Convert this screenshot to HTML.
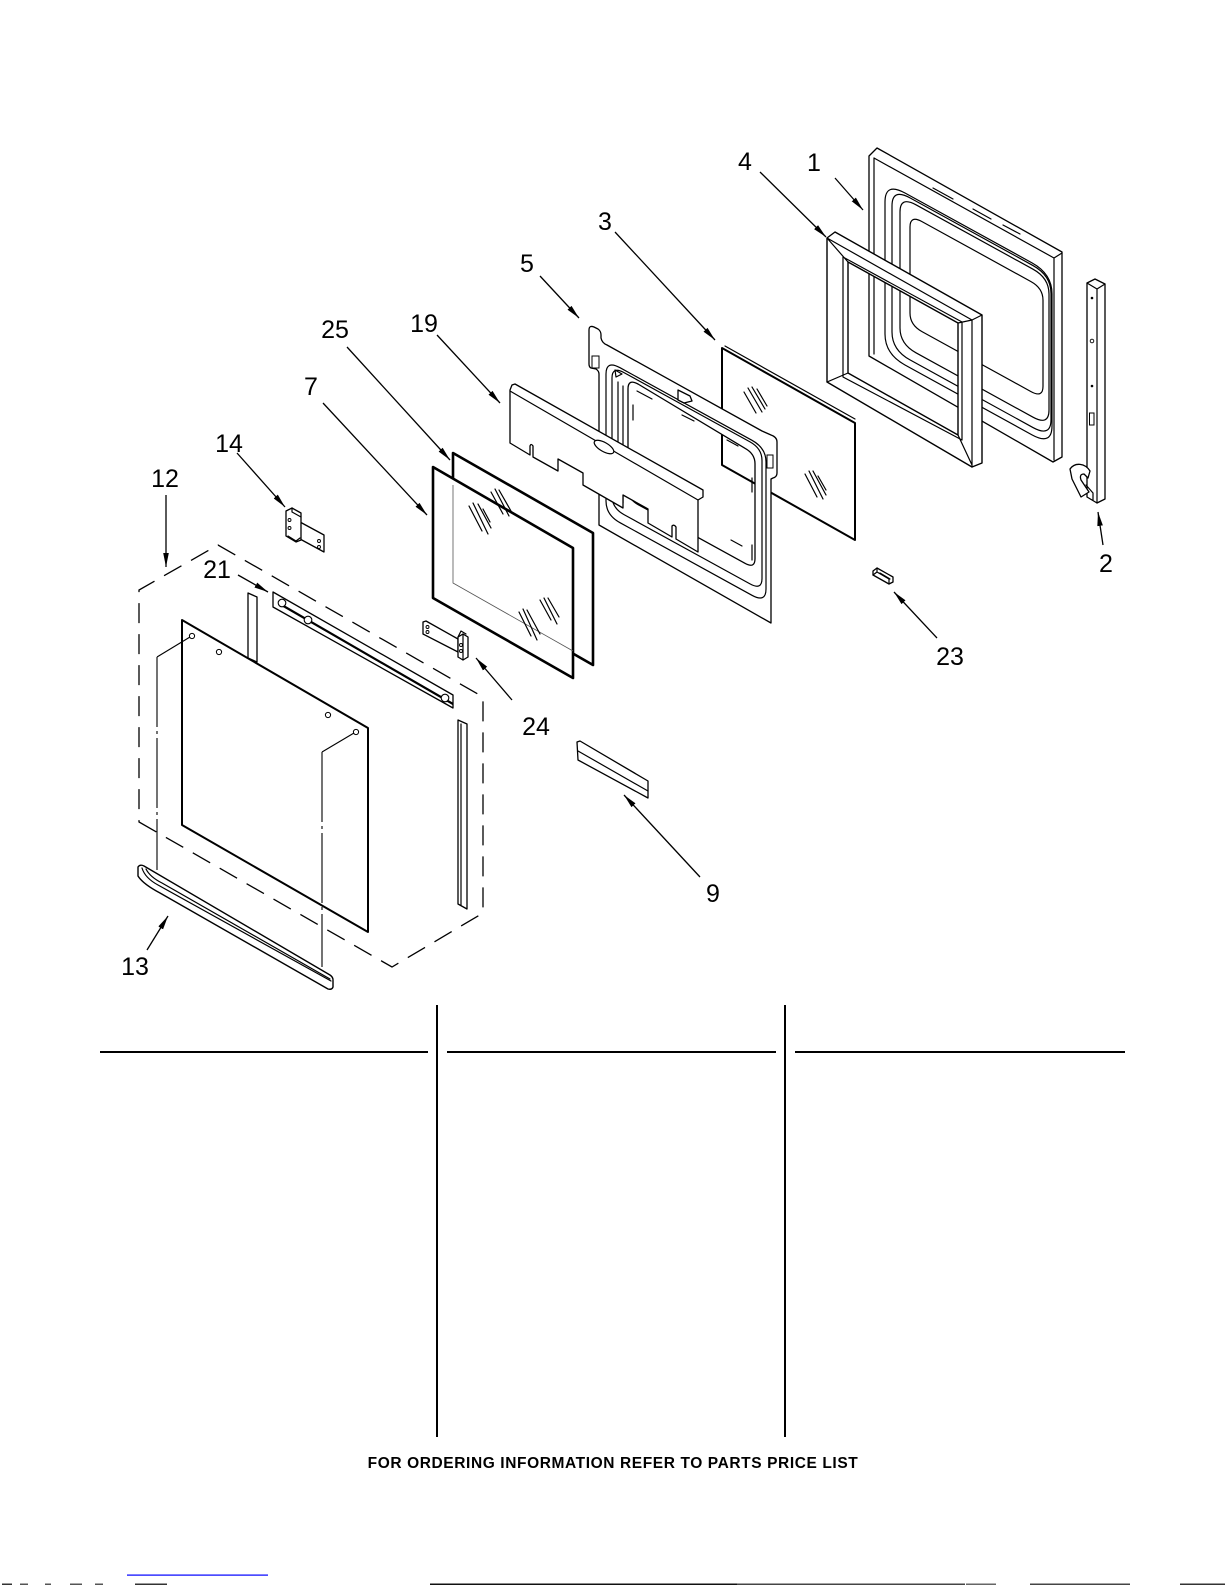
<!DOCTYPE html>
<html>
<head>
<meta charset="utf-8">
<style>
html,body{margin:0;padding:0;background:#fff;width:1225px;height:1585px;overflow:hidden;}
svg{position:absolute;left:0;top:0;}
.l{fill:none;stroke:#000;stroke-width:1.2;stroke-linejoin:round;stroke-linecap:round;}
.w{fill:#fff;stroke:#000;stroke-width:1.3;stroke-linejoin:round;}
.t{font-family:"Liberation Sans",Arial,sans-serif;font-size:25px;fill:#000;text-anchor:middle;}
</style>
</head>
<body>
<svg width="1225" height="1585" viewBox="0 0 1225 1585" xmlns="http://www.w3.org/2000/svg">
<defs>
<marker id="ah" markerUnits="userSpaceOnUse" markerWidth="15" markerHeight="8" refX="14" refY="4" orient="auto">
<path d="M0,1.2 L14,4 L0,6.8 Z" fill="#000"/>
</marker>
</defs>

<!-- PART 1 back panel -->
<path class="w" d="M869,156 L877,148 L1062,252 L1062,457 L1053,462 L869,356 Z"/>
<path class="l" d="M874,158 L1054,258 L1054,460 M874,158 L874,354 M1054,258 L1062,253"/>
<path class="l" d="M885,202 Q885,182 905,193 L1032,262.85 Q1052,273.85 1052,293.85 L1052,425.85 Q1052,445.85 1032,434.85 L905,365 Q885,354 885,334 Z"/>
<path class="l" d="M892,206 Q892,188 910,197.9 L1033,265.55 Q1051,275.45 1051,293.45 L1051,419.45 Q1051,437.45 1033,427.55 L910,359.9 Q892,350 892,332 Z"/>
<path class="l" d="M900,212 Q900,196 916,204.8 L1033,269.2 Q1049,278 1049,294 L1049,410 Q1049,426 1033,417.2 L916,352.8 Q900,344 900,328 Z"/>
<path class="l" d="M910,227 Q910,215 922,221.6 L1031,281.6 Q1043,288.2 1043,300.2 L1043,386.2 Q1043,398.2 1031,391.6 L922,331.6 Q910,325 910,313 Z"/>
<path class="l" d="M933,188 L953,199 M973,209 L991,219 M1003,225 L1020,234"/>

<!-- PART 4 frame -->
<path fill="#fff" fill-rule="evenodd" stroke="#000" stroke-width="1.4" stroke-linejoin="round" d="M827,238 L835,232 L982,315 L982,463 L972,467 L827,382 Z M848,262 L958,323 L958,435 L848,373 Z"/>
<path class="l" d="M827,238 L972,320 L982,315 M972,320 L972,467 M843,257 L962,322 L962,440 L843,377 Z M827,238 L848,262 M827,382 L848,373 M972,320 L958,323 M972,465 L958,435"/>

<!-- PART 2 rail -->
<path class="w" d="M1087,283 L1095,279 L1105,284 L1105,499 L1097,503 L1087,497 Z"/>
<path class="l" d="M1087,283 L1097,289 L1105,284 M1097,289 L1097,503"/>
<circle cx="1092" cy="298" r="1.3" fill="#000"/>
<circle cx="1092" cy="341" r="1.8" fill="none" stroke="#000" stroke-width="0.9"/>
<circle cx="1092" cy="386" r="1.3" fill="#000"/>
<rect x="1089.5" y="413" width="4.5" height="12" fill="none" stroke="#000" stroke-width="1"/>
<path class="w" d="M1090,471 C1085,463 1075,462 1070,469 L1072,479 L1081,497 L1089,492 L1081,480 Q1079,474 1084,474 L1088,478 Z"/>
<path class="l" d="M1086,485 L1093,493 L1093,500"/>

<!-- PART 3 glass -->
<path fill="#fff" stroke="#000" stroke-width="2" stroke-linejoin="round" d="M722,348 L855,423 L855,540 L722,465 Z"/>
<path class="l" d="M725,346 L855,419" stroke-width="0.8"/>
<path class="l" stroke-width="0.9" d="M744,392 L756,413 M748,388 L762,412 M752,387 L765,409 M757,389 L767,406 M805,474 L817,497 M809,471 L823,499 M813,471 L826,495 M818,476 L826,490"/>

<!-- PART 5 frame -->
<path fill="#fff" fill-rule="evenodd" stroke="#000" stroke-width="1.3" stroke-linejoin="round" d="M589,330 Q589,325 594,327 L598,329 Q601,331 601,335 L601,338 Q602,343 607,345 L762,431 L771,435 Q777,437 777,442 L777,473 Q777,477 773,478 L771,479 L771,623 L599,525 L599,374 Q599,371 596,369 L591,368 Q589,367 589,364 Z M638,384 Q628,378.5 628,389 L628,489 Q628,499 638,504.5 L745,563.3 Q755,568.8 755,558.8 L755,463.8 Q755,453.8 745,448.3 Z"/>
<path class="l" d="M606,374 Q606,360 620,367.7 L752,440.3 Q766,448 766,462 L766,589 Q766,603 752,595.3 L620,522.7 Q606,515 606,501 Z"/>
<path class="l" d="M612,378 Q612,366 624,372.6 L750,441.9 Q762,448.5 762,460.5 L762,578.5 Q762,590.5 750,583.9 L624,514.6 Q612,508 612,496 Z"/>
<path class="l" d="M618,382 L618,500 M623,386 L623,503"/>
<path class="l" d="M615,370 L622,374 L616,377 Z"/>
<rect x="592" y="356" width="7" height="12" fill="#fff" stroke="#000" stroke-width="1"/>
<rect x="767" y="455" width="6" height="13" fill="#fff" stroke="#000" stroke-width="1"/>
<path class="w" d="M678,390 L690,396 L692,401 L684,403 L678,400 Z"/>
<path class="l" d="M637,391 L652,399 M682,415 L694,421 M727,440 L738,446 M633,405 L633,420 M752,478 L752,492 M752,545 L752,560 M731,540 L742,546"/>

<!-- PART 19 deflector -->
<path class="w" d="M510,390 L512,385 L515,384 L703,490 L703,497 L698,500 L698,552 L676,539 L676,527 Q674,524 672,526 L672,537 L648,523 L648,509 L623,495 L623,508 L583,485 L583,473 L558,459 L558,471 L533,457 L533,446 Q531,443 530,446 L530,455 L510,443 Z"/>
<path class="l" d="M510,391 L698,500"/>
<ellipse cx="604" cy="447" rx="11" ry="4.5" transform="rotate(30 604 447)" fill="#fff" stroke="#000" stroke-width="1.2"/>

<!-- PART 25 glass -->
<path fill="#fff" stroke="#000" stroke-width="2.6" stroke-linejoin="round" d="M453,453 L593,533 L593,665 L453,585 Z"/>
<!-- PART 7 glass -->
<path fill="#fff" stroke="#000" stroke-width="2.6" stroke-linejoin="round" d="M433,467 L573,548 L573,678 L433,598 Z"/>
<path fill="none" stroke="#555" stroke-width="0.8" d="M453,485 L453,583 L573,651"/>
<path class="l" stroke-width="0.9" d="M469,506 L482,531 M473,503 L488,534 M478,504 L491,528 M483,509 L490,522 M491,492 L503,514 M495,489 L509,516 M499,490 L511,511 M519,612 L531,636 M523,609 L537,640 M527,610 L540,634 M540,600 L551,620 M544,598 L557,624 M548,598 L559,617"/>

<!-- PART 23 clip -->
<path class="w" d="M873,571 L877,568 L893,577 L893,582 L889,584 L873,575 Z"/>
<path class="l" stroke-width="0.9" d="M877,568 L877,572 L889,579 L889,584 M877,572 L873,575 M880,573 L890,579"/>

<!-- PART 9 strip -->
<path class="w" d="M577,742 L580,741 L648,781 L648,798 L578,760 Z"/>
<path class="l" d="M578,751 L648,791"/>

<!-- PART 14 bracket -->
<path class="w" d="M300,522 L324,535 L324,552 L300,539 Z"/>
<path class="w" d="M286,511 L292,508 L301,513 L301,540 L296,542 L286,536 Z"/>
<path class="l" d="M292,508 L292,512 L301,517 M288,536 L296,541 L300,538"/>
<circle cx="289.5" cy="520" r="1.5" fill="none" stroke="#000" stroke-width="0.9"/>
<circle cx="289.5" cy="528" r="1.5" fill="none" stroke="#000" stroke-width="0.9"/>
<circle cx="319" cy="541" r="1.5" fill="none" stroke="#000" stroke-width="0.9"/>
<circle cx="319" cy="547" r="1.5" fill="none" stroke="#000" stroke-width="0.9"/>

<!-- PART 24 bracket -->
<path class="w" d="M423,622 L426,621 L458,639 L458,652 L423,634 Z"/>
<path class="w" d="M458,637 L463,634 L468,637 L468,657 L463,660 L458,657 Z"/>
<path class="l" d="M463,634 L463,660 M458,637 L461,631 L466,634"/>
<circle cx="427.5" cy="627" r="1.5" fill="none" stroke="#000" stroke-width="0.9"/>
<circle cx="427.5" cy="632" r="1.5" fill="none" stroke="#000" stroke-width="0.9"/>
<circle cx="461" cy="645" r="1.5" fill="none" stroke="#000" stroke-width="0.9"/>
<circle cx="461" cy="651" r="1.5" fill="none" stroke="#000" stroke-width="0.9"/>

<!-- DASHED OUTLINE 12 -->
<path fill="none" stroke="#000" stroke-width="1.3" stroke-dasharray="20 11" d="M139,822 L392,967 L483,913 L483,697 L218,545 L139,590 Z"/>

<!-- PART 21 strip -->
<path class="w" d="M273,592 L453,695 L453,708 L273,607 Z"/>
<path fill="none" stroke="#000" stroke-width="2.2" d="M280,604 L453,704"/>
<circle cx="282" cy="603" r="3.8" fill="#fff" stroke="#000" stroke-width="1.1"/>
<circle cx="308" cy="620" r="3.8" fill="#fff" stroke="#000" stroke-width="1.1"/>
<circle cx="445" cy="698" r="3.8" fill="#fff" stroke="#000" stroke-width="1.1"/>

<!-- trim strips -->
<path class="w" d="M248,593 L257,597 L257,662 L248,658 Z"/>
<path class="w" d="M458,720 L467,724 L467,909 L458,904 Z"/>
<path class="l" d="M461,724 L461,905"/>

<!-- PART 12 outer panel -->
<path fill="#fff" stroke="#000" stroke-width="2" stroke-linejoin="round" d="M182,620 L368,728 L368,932 L182,825 Z"/>
<circle cx="192" cy="636" r="2.6" fill="#fff" stroke="#000" stroke-width="1"/>
<circle cx="219" cy="652" r="2.6" fill="#fff" stroke="#000" stroke-width="1"/>
<circle cx="328" cy="715" r="2.6" fill="#fff" stroke="#000" stroke-width="1"/>
<circle cx="356" cy="732" r="2.6" fill="#fff" stroke="#000" stroke-width="1"/>

<!-- dash-dot center lines -->
<path fill="none" stroke="#000" stroke-width="1.1" d="M190,637 L157,657"/>
<path fill="none" stroke="#000" stroke-width="1.1" stroke-dasharray="70 4 3 4" d="M157,657 L157,870"/>
<path fill="none" stroke="#000" stroke-width="1.1" d="M354,733 L322,752"/>
<path fill="none" stroke="#000" stroke-width="1.1" stroke-dasharray="70 4 3 4" d="M322,752 L322,967"/>

<!-- PART 13 handle -->
<path fill="#fff" stroke="#000" stroke-width="1.4" stroke-linejoin="round" d="M138,867 Q140,864 144,866 L330,975 Q333,977 333,980 L333,987 Q332,990 328,989 L160,893 Q143,884 138,876 Z"/>
<path class="l" d="M142,868 Q145,878 158,885 L331,981"/>
<path class="l" stroke-width="0.8" d="M146,869 Q150,877 162,883 L330,979"/>

<!-- ARROWS -->
<g stroke="#000" stroke-width="1.3" fill="none" marker-end="url(#ah)">
<line x1="760" y1="172" x2="826" y2="237"/>
<line x1="835" y1="178" x2="863" y2="210"/>
<line x1="615" y1="232" x2="715" y2="340"/>
<line x1="540" y1="276" x2="579" y2="318"/>
<line x1="437" y1="335" x2="500" y2="403"/>
<line x1="347" y1="347" x2="450" y2="460"/>
<line x1="323" y1="403" x2="427" y2="515"/>
<line x1="237" y1="453" x2="285" y2="507"/>
<line x1="166" y1="495" x2="166" y2="567"/>
<line x1="238" y1="575" x2="268" y2="592"/>
<line x1="512" y1="700" x2="476" y2="658"/>
<line x1="147" y1="950" x2="168" y2="916"/>
<line x1="700" y1="877" x2="624" y2="795"/>
<line x1="937" y1="638" x2="894" y2="592"/>
<line x1="1103" y1="545" x2="1098" y2="512"/>
</g>

<!-- LABELS -->
<text class="t" x="745" y="170">4</text>
<text class="t" x="814" y="171">1</text>
<text class="t" x="605" y="230">3</text>
<text class="t" x="527" y="272">5</text>
<text class="t" x="424" y="332">19</text>
<text class="t" x="335" y="338">25</text>
<text class="t" x="311" y="395">7</text>
<text class="t" x="229" y="452">14</text>
<text class="t" x="165" y="487">12</text>
<text class="t" x="217" y="578">21</text>
<text class="t" x="536" y="735">24</text>
<text class="t" x="950" y="665">23</text>
<text class="t" x="713" y="902">9</text>
<text class="t" x="135" y="975">13</text>
<text class="t" x="1106" y="572">2</text>

<!-- TABLE -->
<rect x="100" y="1051" width="328" height="2" fill="#000"/>
<rect x="447" y="1051" width="329" height="2" fill="#000"/>
<rect x="795" y="1051" width="330" height="2" fill="#000"/>
<rect x="436" y="1005" width="2" height="432" fill="#000"/>
<rect x="784" y="1005" width="2" height="432" fill="#000"/>

<text x="613" y="1468" style="font-family:'Liberation Sans',Arial,sans-serif;font-size:15.5px;font-weight:bold;letter-spacing:0.6px;fill:#000;" text-anchor="middle">FOR ORDERING INFORMATION REFER TO PARTS PRICE LIST</text>

<!-- bottom artifacts -->
<rect x="127" y="1574.5" width="141" height="1.2" fill="#0000ff"/>
<rect x="430" y="1583.5" width="307" height="1.5" fill="#111"/>
<rect x="737" y="1583.5" width="228" height="1.5" fill="#444"/>
<rect x="966" y="1583.5" width="30" height="1.5" fill="#666"/>
<rect x="1030" y="1583.5" width="100" height="1.5" fill="#444"/>
<rect x="1180" y="1583.5" width="45" height="1.5" fill="#333"/>
<rect x="2" y="1583.5" width="10" height="1.5" fill="#333"/>
<rect x="20" y="1583.5" width="8" height="1.5" fill="#555"/>
<rect x="45" y="1583.5" width="6" height="1.5" fill="#555"/>
<rect x="70" y="1583.5" width="12" height="1.5" fill="#555"/>
<rect x="95" y="1583.5" width="8" height="1.5" fill="#555"/>
<rect x="135" y="1583.5" width="32" height="1.5" fill="#333"/>
</svg>
</body>
</html>
